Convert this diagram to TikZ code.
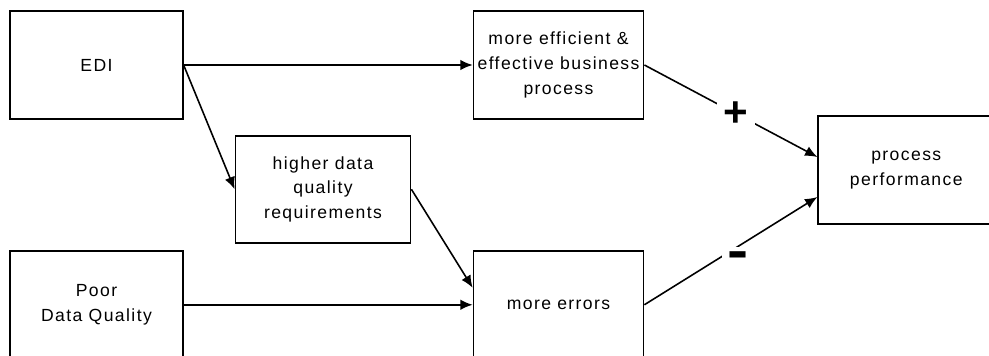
\documentclass[tikz,border=0pt]{standalone}
\usepackage{fontspec}
\setmainfont{Liberation Sans}[LetterSpace=8]
\usetikzlibrary{positioning,arrows.meta}

\begin{document}
\begin{tikzpicture}[
        node distance=2cm,
        font=\fontsize{10}{14}\selectfont,
        box/.style={draw, line width=1pt, align=center, minimum width=3.45cm, minimum height=2.16cm, inner sep=1pt},
        arrow/.style={-{Latex[length=7pt,width=6pt]}, line width=0.9pt},
        sign/.style={fill=white, inner sep=4pt, font=\fontsize{24}{24}\selectfont\bfseries},
    ]
    \clip (-1.93,-5.8) rectangle (17.85,1.3);

    % Boxes
    \node[box] (edi) {EDI};
    \node[box, right=5.78cm of edi, minimum width=3.4cm] (efficient) {more efficient \&\\effective business\\process};
    \node[box, below right=0.3cm and 1.02cm of edi, minimum width=3.5cm, minimum height=2.14cm] (requirements) {higher data\\quality\\requirements};
    \node[box, below=2.6cm of edi] (poor) {Poor\\Data Quality};
    \node[box, right=5.78cm of poor, minimum width=3.4cm] (errors) {more errors};
    \node[box, right=3.46cm of efficient, yshift=-2.1cm, minimum width=3.52cm] (performance) {process\\performance};

    % Lines
    \draw[arrow] (edi) -- (efficient);
    \draw[arrow] (edi.east) -- (requirements.west);
    \draw[arrow] (requirements.east) -- ([yshift=0.34cm]errors.west);
    \draw[arrow] (poor) -- (errors);
    \draw[arrow] (efficient.east) -- node[sign, pos=0.53] {+} ([yshift=0.26cm]performance.west);
    \draw[arrow] (errors.east) -- node[sign, pos=0.54, yshift=-0.28cm, inner sep=3pt, font=\fontsize{30}{30}\selectfont\bfseries] {\scalebox{1.2}[1]{-}} ([yshift=-0.54cm]performance.west);

\end{tikzpicture}
\end{document}
